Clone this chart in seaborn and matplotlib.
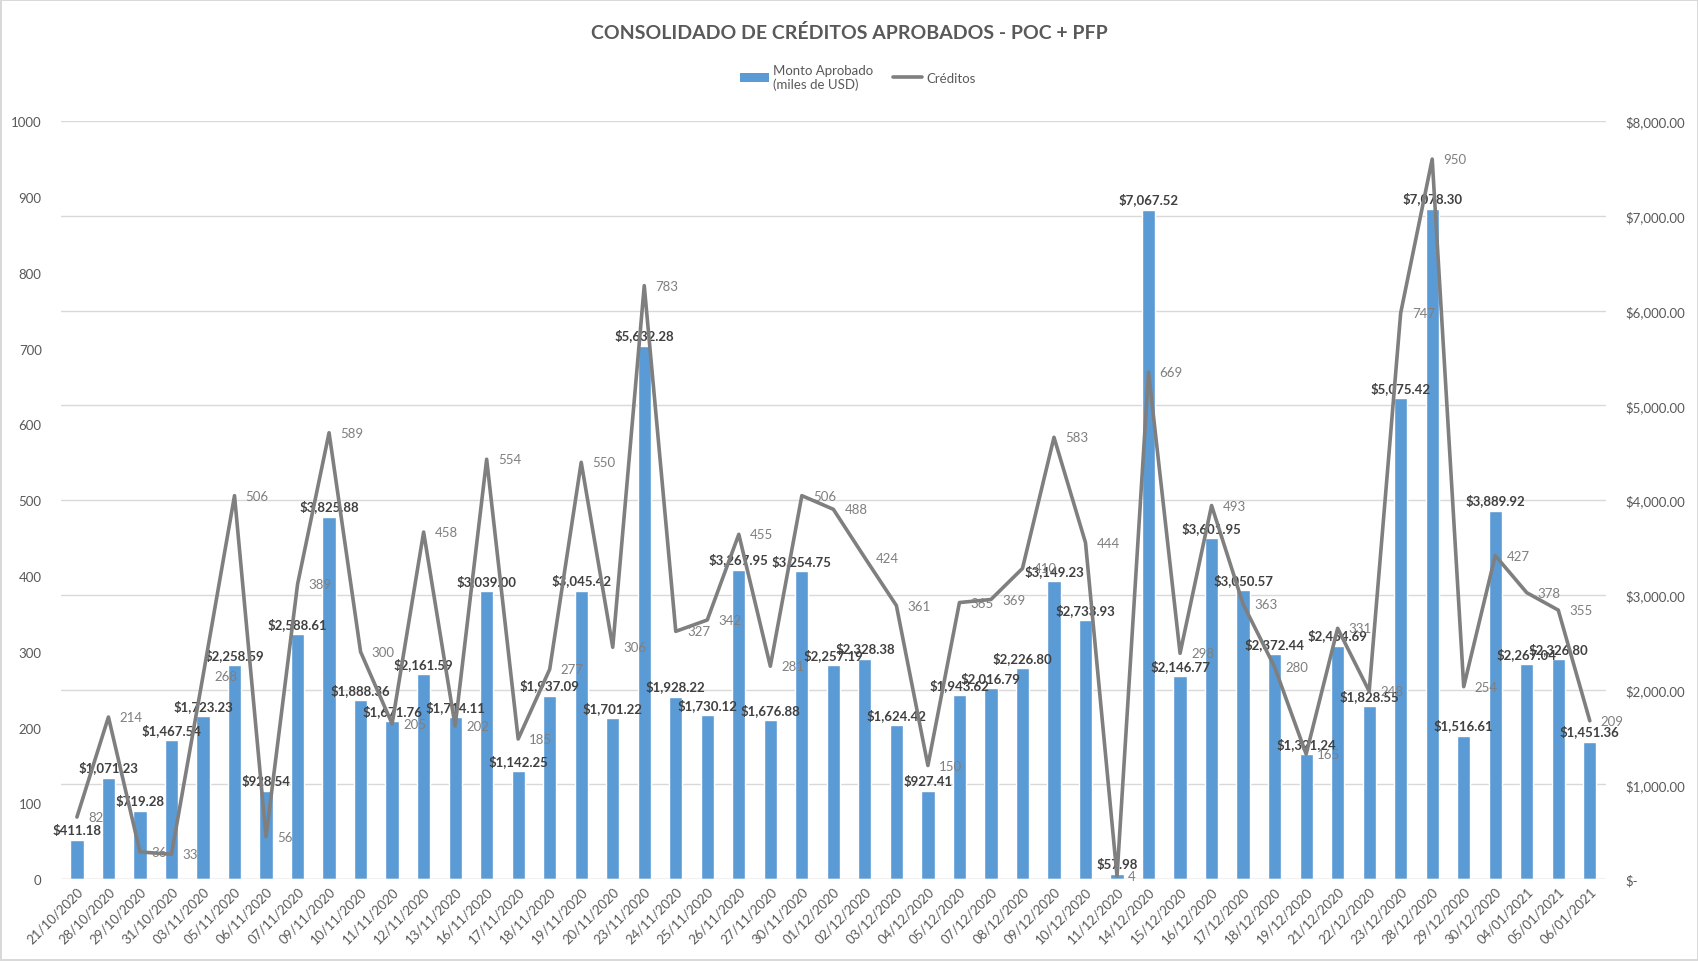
import numpy as np
import pandas as pd
import matplotlib
matplotlib.use("Agg")
import matplotlib.pyplot as plt
import seaborn as sns
from matplotlib.patches import Patch
from matplotlib.lines import Line2D

fechas = ["21/10/2020", "28/10/2020", "29/10/2020", "31/10/2020", "03/11/2020", "05/11/2020",
          "06/11/2020", "07/11/2020", "09/11/2020", "10/11/2020", "11/11/2020", "12/11/2020",
          "13/11/2020", "16/11/2020", "17/11/2020", "18/11/2020", "19/11/2020", "20/11/2020",
          "23/11/2020", "24/11/2020", "25/11/2020", "26/11/2020", "27/11/2020", "30/11/2020",
          "01/12/2020", "02/12/2020", "03/12/2020", "04/12/2020", "05/12/2020", "07/12/2020",
          "08/12/2020", "09/12/2020", "10/12/2020", "11/12/2020", "14/12/2020", "15/12/2020",
          "16/12/2020", "17/12/2020", "18/12/2020", "19/12/2020", "21/12/2020", "22/12/2020",
          "23/12/2020", "28/12/2020", "29/12/2020", "30/12/2020", "04/01/2021", "05/01/2021",
          "06/01/2021"]

# monto aprobado en miles de USD
monto = [411.18, 1071.23, 719.28, 1467.54, 1723.23, 2258.59, 928.54, 2588.61, 3825.88,
         1888.36, 1671.76, 2161.59, 1714.11, 3039.00, 1142.25, 1937.09, 3045.42, 1701.22,
         5632.28, 1928.22, 1730.12, 3267.95, 1676.88, 3254.75, 2257.19, 2328.38, 1624.42,
         927.41, 1943.62, 2016.79, 2226.80, 3149.23, 2733.93, 57.98, 7067.52, 2146.77,
         3601.95, 3050.57, 2372.44, 1321.24, 2464.69, 1828.55, 5075.42, 7078.30, 1516.61,
         3889.92, 2267.04, 2326.80, 1451.36]

creditos = [82, 214, 36, 33, 268, 506, 56, 389, 589, 300, 205, 458, 202, 554, 185, 277,
            550, 306, 783, 327, 342, 455, 281, 506, 488, 424, 361, 150, 365, 369, 410, 583,
            444, 4, 669, 298, 493, 363, 280, 165, 331, 248, 747, 950, 254, 427, 378, 355, 209]

df = pd.DataFrame({"fecha": fechas, "monto": monto, "creditos": creditos})
df["pos"] = np.arange(len(df))

sns.set_theme(style="white")
plt.rcParams["font.family"] = ["Lato", "DejaVu Sans"]

GRIS = "#595959"
AZUL = "#5b9bd5"
LINEA = "#7f7f7f"

fig = plt.figure(figsize=(16.99, 9.62), dpi=100)
fig.patch.set_edgecolor("#d9d9d9")
fig.patch.set_linewidth(1.5)
ax = fig.add_axes([0.036, 0.085, 0.909, 0.788])

# barras (eje derecho, en $)
sns.barplot(data=df, x="fecha", y="monto", color=AZUL, saturation=1, width=0.42, ax=ax)
ax.set_ylim(0, 8000)
ax.set_xlim(-0.5, len(df) - 0.5)
ax.set_yticks(np.arange(0, 8001, 1000))
ax.set_yticklabels(["$-"] + [f"${v:,.2f}" for v in range(1000, 8001, 1000)])
ax.grid(axis="y", color="#d9d9d9", linewidth=1)
ax.set_axisbelow(True)
ax.set_xlabel("")
ax.set_ylabel("")
ax.tick_params(axis="x", colors=GRIS, labelsize=9.5, length=0, pad=4)
plt.setp(ax.get_xticklabels(), rotation=45, ha="right", rotation_mode="anchor")
for s in ax.spines.values():
    s.set_visible(False)
ax.axhline(0, color="#d9d9d9", linewidth=1)

ax.bar_label(ax.containers[0], labels=[f"${v:,.2f}" for v in df["monto"]],
             padding=3, fontsize=9.5, fontweight="bold", color="#404040")

# linea de creditos (eje izquierdo)
ax2 = ax.twinx()
sns.lineplot(data=df, x="pos", y="creditos", color=LINEA, linewidth=2.6, ax=ax2)
ax2.set_ylim(0, 1000)
ax2.set_yticks(np.arange(0, 1001, 100))
ax2.set_xlabel("")
ax2.set_ylabel("")
for s in ax2.spines.values():
    s.set_visible(False)

# twinx deja el eje de barras a la izquierda, se intercambian aqui
ax.yaxis.tick_right()
ax2.yaxis.tick_left()
ax.tick_params(axis="y", colors=GRIS, labelsize=9.5, length=0, pad=14)
ax2.tick_params(axis="y", colors=GRIS, labelsize=9.5, length=0, pad=14)

for p, c in zip(df["pos"], df["creditos"]):
    ax2.annotate(str(c), (p, c), xytext=(8, 0), textcoords="offset points",
                 ha="left", va="center", fontsize=9.5, color=LINEA)

fig.text(0.5, 0.966, "CONSOLIDADO DE CRÉDITOS APROBADOS - POC + PFP", ha="center",
         va="center", fontsize=14, fontweight="bold", color=GRIS)

handles = [Patch(facecolor=AZUL, edgecolor="none"),
           Line2D([0], [0], color=LINEA, linewidth=2.6)]
fig.legend(handles, ["Monto Aprobado\n(miles de USD)", "Créditos"], loc="upper center",
           bbox_to_anchor=(0.505, 0.945), ncol=2, frameon=False, fontsize=9.5,
           labelcolor=GRIS, handlelength=2.2, handletextpad=0.3, columnspacing=1.5)

fig.savefig("out.png", dpi=100)
